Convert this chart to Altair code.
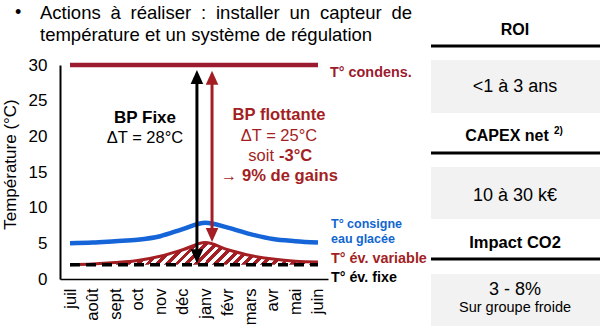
import altair as alt
import pandas as pd

# ---------------- data ----------------
months = ["juil", "août", "sept", "oct", "nov", "déc", "janv", "févr", "mars", "avr", "mai", "juin"]
consigne = [5.0, 5.1, 5.3, 5.5, 6.0, 7.0, 7.9, 7.2, 6.3, 5.6, 5.3, 5.1]
evap_var = [2.0, 2.1, 2.3, 2.6, 3.2, 4.1, 5.1, 4.1, 3.3, 2.8, 2.5, 2.4]
evap_fixe = [2.0] * 12
condens = [30.0] * 12

arrow_names = ["fixe", "flottante"]
arrow_x = [5.63, 6.3]
arrow_low = [2.2, 5.2]
arrow_high = [29.3, 29.2]

y_ticks = [0, 5, 10, 15, 20, 25, 30]

# ---------------- style ----------------
RED = "#A31F24"
CRIMSON = "#9B1B30"
BLUE = "#1565D8"
TBLUE = "#1066D0"
GRAYBOX = "#F2F2F2"
FONT = "Liberation Sans"

df = pd.DataFrame({
    "i": list(range(len(months))),
    "month": months,
    "consigne": consigne,
    "evap_var": evap_var,
    "evap_fixe": evap_fixe,
    "condens": condens,
})
df_arrows = pd.DataFrame({"name": arrow_names, "x": arrow_x, "low": arrow_low, "high": arrow_high})

xscale = alt.Scale(domain=[-0.444, 11.444], nice=False, zero=False)
yscale = alt.Scale(domain=[0, 30], nice=False)
month_expr = "[" + ",".join("'%s'" % m for m in months) + "][datum.value]"

x_axis = alt.Axis(values=list(range(len(months))), labelExpr=month_expr, labelAngle=-90,
                  labelAlign="right", labelBaseline="middle", ticks=False, tickSize=0,
                  labelPadding=9, labelFontSize=16.5, labelFont=FONT, labelColor="black",
                  labelOverlap=False, labelBound=False,
                  domainColor="black", domainWidth=1.5, grid=False, title=None)
y_axis = alt.Axis(values=y_ticks, ticks=False, tickSize=0, labelPadding=13, labelFontSize=17,
                  labelFont=FONT, labelColor="black", labelOverlap=False,
                  domainColor="black", domainWidth=2,
                  grid=False, title="Température (°C)", titleFont=FONT, titleFontSize=17,
                  titleFontWeight="normal", titleColor="black", titleX=-41, titleY=99)


def X(field):
    return alt.X(field, scale=xscale, axis=x_axis)


def Y(field):
    return alt.Y(field, scale=yscale, axis=y_axis)


base = alt.Chart(df)

# hatch pattern approximated with a striped linear gradient
N = 28
h = 22.0 / 248.0
s = (1 + h) / (1 + h * h)
stops = []
for k in range(N):
    a, b, c = k / N, (k + 0.5) / N, (k + 1) / N
    stops += [alt.GradientStop(offset=a, color=RED), alt.GradientStop(offset=b, color=RED),
              alt.GradientStop(offset=b, color="white"), alt.GradientStop(offset=c, color="white")]
hatch = alt.LinearGradient(gradient="linear", stops=stops, x1=0, y1=0, x2=s, y2=s * h)

area = base.mark_area(fill=hatch, opacity=1, interpolate="monotone").encode(
    x=X("i:Q"), y=Y("evap_var:Q"), y2="evap_fixe:Q")
l_condens = base.mark_line(color=CRIMSON, strokeWidth=4.5).encode(x=X("i:Q"), y=Y("condens:Q"))
l_consigne = base.mark_line(color=BLUE, strokeWidth=4.5, interpolate="monotone").encode(
    x=X("i:Q"), y=Y("consigne:Q"))
l_var = base.mark_line(color=RED, strokeWidth=3, interpolate="monotone").encode(
    x=X("i:Q"), y=Y("evap_var:Q"))
l_fixe = base.mark_line(color="black", strokeWidth=3.5, strokeDash=[10, 6]).encode(
    x=X("i:Q"), y=Y("evap_fixe:Q"))

acolor = alt.Color("name:N", scale=alt.Scale(domain=arrow_names, range=["black", RED]), legend=None)
abase = alt.Chart(df_arrows)
shaft = abase.transform_calculate(lo="datum.low + 0.9", hi="datum.high - 0.9").mark_rule(strokeWidth=3).encode(
    x=X("x:Q"), y=Y("lo:Q"), y2="hi:Q", color=acolor)
UP = "M0,-1L0.9,1L-0.9,1Z"
DOWN = "M0,1L0.9,-1L-0.9,-1Z"
head_up = abase.mark_point(shape=UP, filled=True, size=196, opacity=1, strokeWidth=0, yOffset=7).encode(
    x=X("x:Q"), y=Y("high:Q"), color=acolor)
head_dn = abase.mark_point(shape=DOWN, filled=True, size=196, opacity=1, strokeWidth=0, yOffset=-7).encode(
    x=X("x:Q"), y=Y("low:Q"), color=acolor)


def txt(text, x, y, size, color="black", weight="normal", align="left", baseline="middle"):
    return alt.Chart(alt.Data(values=[{"t": text}])).mark_text(
        align=align, baseline=baseline, fontSize=size, font=FONT, fontWeight=weight, color=color
    ).encode(text="t:N", x=alt.value(x), y=alt.value(y))


def rule(x1, x2, y, w=3):
    return alt.Chart(alt.Data(values=[{"a": 1}])).mark_rule(color="black", strokeWidth=w).encode(
        x=alt.value(x1), x2=alt.value(x2), y=alt.value(y))


def box(x1, x2, y1, y2):
    return alt.Chart(alt.Data(values=[{"a": 1}])).mark_rect(color=GRAYBOX).encode(
        x=alt.value(x1), x2=alt.value(x2), y=alt.value(y1), y2=alt.value(y2))


# first heading line is justified: words placed one by one
head_words = ["Actions", "à", "réaliser", ":", "installer", "un", "capteur", "de"]
head_x = [-20, 50.5, 70.5, 141, 156, 229.5, 260, 331.5]

texts = [txt("•", -45, -52, 18)]
texts += [txt(w, x, -52, 18.5) for w, x in zip(head_words, head_x)]
texts += [
    txt("température et un système de régulation", -20, -30, 18.5),
    # annotations
    txt("BP Fixe", 85, 53, 17, weight="bold", align="center"),
    txt("ΔT = 28°C", 85, 73, 16.5, align="center"),
    txt("BP flottante", 219, 50, 16.6, color=RED, weight="bold", align="center"),
    txt("ΔT = 25°C", 219, 71, 16.5, color=RED, align="center"),
    txt("soit", 214, 91, 16.5, color=RED, align="right"),
    txt("-3°C", 219, 91, 16.5, color=RED, weight="bold"),
    txt("→", 177, 111, 16, color=RED, align="right"),
    txt("9% de gains", 182, 111, 16.6, color=RED, weight="bold"),
    # series labels
    txt("T° condens.", 270, 8, 14.4, color=CRIMSON, weight="bold"),
    txt("T° consigne", 271, 159, 12.5, color=TBLUE, weight="bold"),
    txt("eau glacée", 271, 174, 12.5, color=TBLUE, weight="bold"),
    txt("T° év. variable", 271, 194, 14.4, color=RED, weight="bold"),
    txt("T° év. fixe", 271, 213, 14.3, weight="bold"),
]

panel = [
    box(371, 540, -5, 48), box(371, 540, 102, 154), box(371, 540, 209, 261),
    rule(371, 540, -19), rule(371, 540, 88), rule(371, 540, 194),
    txt("ROI", 455, -35, 16, weight="bold", align="center"),
    txt("<1 à 3 ans", 455, 22, 18, align="center"),
    txt("CAPEX net", 447, 71, 16, weight="bold", align="center"),
    txt("2)", 494, 66, 10, weight="bold"),
    txt("10 à 30 k€", 455, 131, 18, align="center"),
    txt("Impact CO2", 455, 178, 16.5, weight="bold", align="center"),
    txt("3 - 8%", 455, 225, 18, align="center"),
    txt("Sur groupe froide", 455, 243, 14.5, align="center"),
]

chart = alt.layer(
    area, l_condens, l_consigne, l_var, l_fixe, shaft, head_up, head_dn, *texts, *panel
).properties(
    width=268, height=214,
    padding={"left": 60, "top": 65, "right": 279, "bottom": 56},
    autosize=alt.AutoSizeParams(type="none"),
    background="white",
).configure_view(stroke=None).configure_axis(labelOverlap=False)

chart.save("out.html", embed_options={"renderer": "svg", "actions": False})
